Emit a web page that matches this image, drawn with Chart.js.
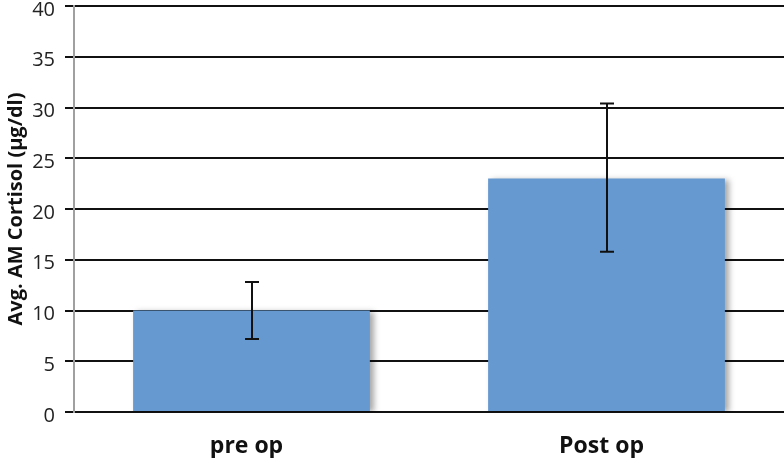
<!DOCTYPE html>
<html>
<head>
<meta charset="utf-8">
<script src="https://cdn.jsdelivr.net/npm/chart.js@4.4.0/dist/chart.umd.min.js"></script>
<style>
  html, body { margin: 0; padding: 0; background: #fff; }
  #wrap { width: 784px; height: 458px; }
</style>
</head>
<body>
<div id="wrap"><canvas id="cortisolChart" width="784" height="458"></canvas></div>
<script>
// data
const categories = ['pre op', 'Post op'];
const meanCortisol = [10.0, 23.0];
const errLow = [7.2, 15.8];
const errHigh = [12.8, 30.4];
const yTicks = [0, 5, 10, 15, 20, 25, 30, 35, 40];

// soft shadow to the right of the bars
const barShadow = {
    id: 'barShadow',
    beforeDatasetsDraw(chart) {
        const ctx = chart.ctx;
        ctx.save();
        ctx.shadowColor = 'rgba(0,0,0,0.35)';
        ctx.shadowBlur = 6;
        ctx.shadowOffsetX = 4;
        ctx.shadowOffsetY = 1;
    },
    afterDatasetsDraw(chart) {
        chart.ctx.restore();
    }
};

// error bars, drawn through the y scale
const errorBars = {
    id: 'errorBars',
    afterDatasetsDraw(chart) {
        const ctx = chart.ctx;
        const y = chart.scales.y;
        const meta = chart.getDatasetMeta(0);
        ctx.save();
        ctx.strokeStyle = '#111';
        ctx.lineWidth = 2;
        meta.data.forEach(function(bar, i) {
            const x = Math.round(bar.x);
            const top = y.getPixelForValue(errHigh[i]);
            const bot = y.getPixelForValue(errLow[i]);
            ctx.beginPath();
            ctx.moveTo(x, top);
            ctx.lineTo(x, bot);
            ctx.moveTo(x - 7, top);
            ctx.lineTo(x + 7, top);
            ctx.moveTo(x - 7, bot);
            ctx.lineTo(x + 7, bot);
            ctx.stroke();
        });
        ctx.restore();
    }
};

const ctx = document.getElementById('cortisolChart').getContext('2d');
new Chart(ctx, {
    type: 'bar',
    data: {
        labels: categories,
        datasets: [{
            data: meanCortisol,
            backgroundColor: '#6699cf',
            borderWidth: 0,
            categoryPercentage: 1.0,
            barPercentage: 0.667
        }]
    },
    options: {
        responsive: false,
        animation: false,
        layout: { padding: { top: 6, right: 0, left: 0, bottom: 0 } },
        plugins: {
            legend: { display: false },
            tooltip: { enabled: false }
        },
        scales: {
            x: {
                grid: { display: false },
                border: { display: false },
                ticks: {
                    color: '#111',
                    padding: 13,
                    labelOffset: -5,
                    font: { family: 'Open Sans', size: 23, weight: 'bold' }
                },
                afterFit(scale) { scale.height = 46; }
            },
            y: {
                min: 0,
                max: 40,
                afterBuildTicks(scale) { scale.ticks = yTicks.map(v => ({ value: v })); },
                grid: { color: '#111', lineWidth: 2, tickLength: 9, drawTicks: true },
                border: { color: '#a0a0a0', width: 2 },
                ticks: {
                    color: '#222',
                    padding: 10,
                    labelOffset: 4,
                    font: { family: 'Open Sans', size: 20 }
                },
                title: {
                    display: true,
                    text: 'Avg. AM Cortisol (µg/dl)',
                    color: '#111',
                    padding: { top: 4, bottom: 0 },
                    font: { family: 'Open Sans', size: 20, weight: 'bold' }
                },
                afterFit(scale) {
                    scale.width = 74;
                    scale.paddingTop = 0;
                    scale.paddingBottom = 0;
                }
            }
        }
    },
    plugins: [barShadow, errorBars]
});
</script>
</body>
</html>
